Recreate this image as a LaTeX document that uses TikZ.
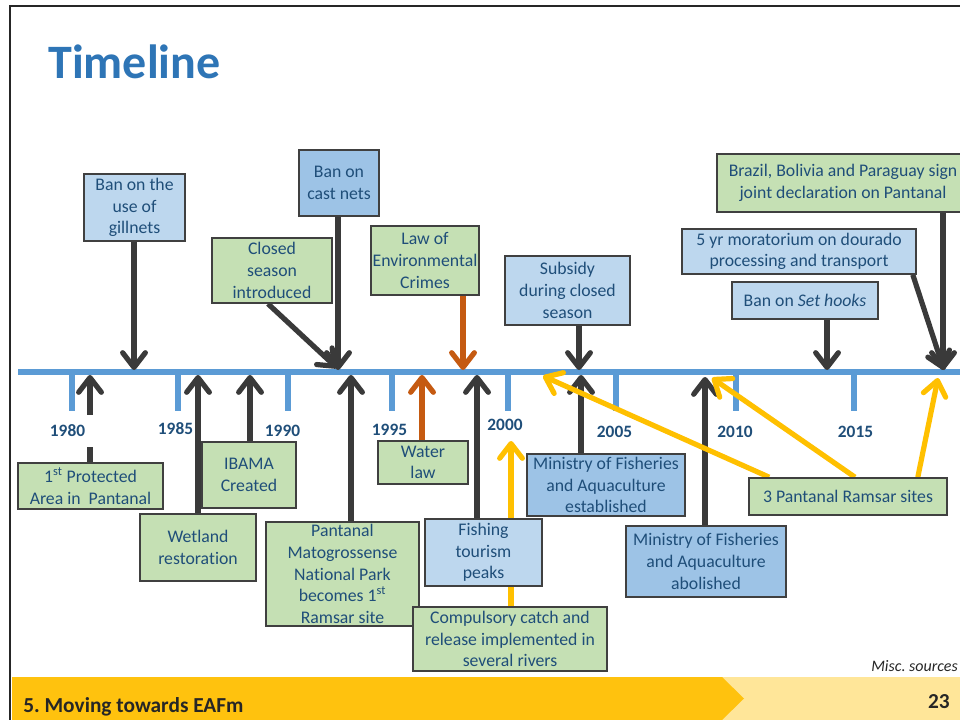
\documentclass[tikz,border=0pt]{standalone}
\usepackage{fontspec}
\setmainfont{Carlito}[Ligatures=NoCommon]
\usetikzlibrary{arrows.meta, backgrounds}
\newdimen\px \px=0.75pt
\definecolor{ink}{HTML}{1F4E79}
\definecolor{titleblue}{HTML}{2E75B6}
\definecolor{axisblue}{HTML}{5B9BD5}
\definecolor{paleblue}{HTML}{BDD7EE}
\definecolor{midblue}{HTML}{9DC3E6}
\definecolor{palegreen}{HTML}{C5E0B4}
\definecolor{edge}{HTML}{404040}
\definecolor{darkgrey}{HTML}{3A3A3A}
\definecolor{rust}{HTML}{C55A11}
\definecolor{amber}{HTML}{FFC000}
\definecolor{bargold}{HTML}{FFC20E}
\definecolor{barlight}{HTML}{FFE699}
\definecolor{framegrey}{HTML}{262626}
\tikzset{
  box/.style={
    rectangle, draw=edge, line width=1.2pt, inner sep=1pt,
    align=center, text=ink, font=\fontsize{13.3}{16.2}\selectfont
  },
  bluebox/.style={box, fill=paleblue},
  deepbox/.style={box, fill=midblue},
  greenbox/.style={box, fill=palegreen},
  sized/.style 2 args={minimum width=#1\px, minimum height=#2\px},
  year/.style={font=\fontsize{13}{15}\selectfont\bfseries, text=ink, inner sep=0pt},
  heading/.style={font=\fontsize{36}{40}\selectfont\bfseries, text=titleblue, inner sep=0pt},
  footer/.style={font=\fontsize{16}{18}\selectfont\bfseries, text=framegrey, inner sep=0pt},
  credit/.style={font=\fontsize{12}{14}\selectfont\itshape, text=framegrey, inner sep=0pt},
  timeaxis/.style={draw=axisblue, line width=4.2pt},
  yeartick/.style={draw=axisblue, line width=4.2pt},
  arrow/.style={draw=darkgrey, line width=3.9pt, -{Straight Barb[length=11pt,width=17pt,round]}},
  rustarrow/.style={arrow, draw=rust},
  amberarrow/.style={arrow, draw=amber},
}

\begin{document}
\frenchspacing
\begin{tikzpicture}[x=0.75pt, y=-0.75pt]
  \useasboundingbox (0,0) rectangle (960,720);

  \draw[framegrey, line width=1.5pt] (10,720) -- (10,6) -- (962,6);
  \fill[barlight] (12,677) rectangle (960,720);
  \fill[bargold] (12,677) -- (722,677) -- (744,698.5) -- (722,720) -- (12,720) -- cycle;

  \node[heading, anchor=base west] (title) at (48,79) {Timeline};
  \node[footer, anchor=base west] (section) at (23,712) {5. Moving towards EAFm};
  \node[footer, anchor=base east] (page) at (950,708) {23};
  \node[credit, anchor=base east] (sources) at (958,671) {Misc. sources};

  \node[bluebox, sized={101}{67}] (gillnets) at (134.5,207.5) {Ban on the\\use of\\gillnets};
  \node[deepbox, sized={80}{66}] (castnets) at (339,183) {Ban on\\cast nets};
  \node[greenbox, sized={120}{65}] (closedseason) at (272,270.5) {Closed\\season\\introduced};
  \node[greenbox, sized={100}{69}] (envcrimes) at (425,260.5) {Law of\\Environmental\\Crimes};
  \node[bluebox, sized={125}{69}] (subsidy) at (567.5,290.5) {Subsidy\\during closed\\season};
  \node[greenbox, sized={252}{58}] (declaration) at (843,183) {Brazil, Bolivia and Paraguay sign\\joint declaration on Pantanal};
  \node[bluebox, sized={234}{45}] (moratorium) at (799,251.5) {5 yr moratorium on dourado\\processing and transport};
  \node[bluebox, sized={146}{37}] (sethooks) at (805,300.5) {Ban on \textit{Set hooks}};

  \node[greenbox, sized={145}{46}] (protected) at (90.5,486) {1\textsuperscript{st} Protected\\Area in~ Pantanal};
  \node[greenbox, sized={116}{67}] (wetland) at (198,547.5) {Wetland\\restoration};
  \node[greenbox, sized={94}{66}] (ibama) at (249,475) {IBAMA\\Created};
  \node[greenbox, sized={153}{104}, inner ysep=0pt] (ramsarpark) at (342.5,574) {Pantanal\\Matogrossense\\National Park\\becomes 1\textsuperscript{st}\\Ramsar site};
  \node[greenbox, sized={90}{43}] (waterlaw) at (423,462.5) {Water\\law};
  \node[bluebox, sized={117}{67}] (tourism) at (483.5,552.5) {Fishing\\tourism\\peaks};
  \node[greenbox, sized={194}{64}] (catchrelease) at (510,639) {Compulsory catch and\\release implemented in\\several rivers};
  \node[deepbox, sized={158}{62}] (mfaopen) at (606,485) {Ministry of Fisheries\\and Aquaculture\\established};
  \node[deepbox, sized={160}{71}] (mfaclosed) at (706,561.5) {Ministry of Fisheries\\and Aquaculture\\abolished};
  \node[greenbox, sized={198}{37}] (ramsarsites) at (848,496.5) {3 Pantanal Ramsar sites};

  \node[year, fill=white, minimum width=52\px, minimum height=32\px] (y1980) at (67.5,431) {1980};
  \node[year] (y1985) at (175.5,429) {1985};
  \node[year] (y1990) at (282.5,430.5) {1990};
  \node[year] (y1995) at (389.5,429.5) {1995};
  \node[year] (y2000) at (505,424.5) {2000};
  \node[year] (y2005) at (614.5,432) {2005};
  \node[year] (y2010) at (735,432) {2010};
  \node[year] (y2015) at (855.5,432) {2015};

  \coordinate (at-gillnets) at (134,370);
  \coordinate (at-castnets) at (338,370);
  \coordinate (at-closedseason) at (337,368);
  \coordinate (at-envcrimes) at (463,370);
  \coordinate (at-subsidy) at (579,370);
  \coordinate (at-sethooks) at (827,370);
  \coordinate (at-moratorium) at (944,370);
  \coordinate (at-declaration) at (943,370);
  \coordinate (at-protected) at (90,375);
  \coordinate (at-wetland) at (198,375);
  \coordinate (at-ibama) at (250,375);
  \coordinate (at-ramsarpark) at (351,375);
  \coordinate (at-waterlaw) at (422,375);
  \coordinate (at-tourism) at (477,375);
  \coordinate (at-catchrelease) at (511,441);
  \coordinate (at-mfaopen) at (581,375);
  \coordinate (at-mfaclosed) at (705,377);
  \coordinate (at-ramsar1) at (543,376);
  \coordinate (at-ramsar2) at (712,378);
  \coordinate (at-ramsar3) at (938,378);

  \begin{scope}[on background layer]
    \fill[white] (0,0) rectangle (960,720);
    \draw[timeaxis] (18,372) -- (960,372);
    \foreach \x in {72,178,288,392,508,616,736,854}
      \draw[yeartick] (\x,372) -- (\x,411);

    \draw[arrow] (at-gillnets |- gillnets.south) -- (at-gillnets);
    \draw[arrow] (at-castnets |- castnets.south) -- (at-castnets);
    \draw[arrow] ([xshift=-4\px]closedseason.south) -- (at-closedseason);
    \draw[rustarrow] (at-envcrimes |- envcrimes.south) -- (at-envcrimes);
    \draw[arrow] (at-subsidy |- subsidy.south) -- (at-subsidy);
    \draw[arrow] (at-sethooks |- sethooks.south) -- (at-sethooks);
    \draw[arrow] ([xshift=-4\px]moratorium.south east) -- (at-moratorium);
    \draw[arrow] (at-declaration |- declaration.south) -- (at-declaration);

    \draw[arrow] (at-protected |- protected.north) -- (at-protected);
    \draw[arrow] (at-wetland |- wetland.north) -- (at-wetland);
    \draw[arrow] (at-ibama |- ibama.north) -- (at-ibama);
    \draw[arrow] (at-ramsarpark |- ramsarpark.north) -- (at-ramsarpark);
    \draw[rustarrow] (at-waterlaw |- waterlaw.north) -- (at-waterlaw);
    \draw[arrow] (at-tourism |- tourism.north) -- (at-tourism);
    \draw[arrow] (at-mfaopen |- mfaopen.north) -- (at-mfaopen);
    \draw[arrow] (at-mfaclosed |- mfaclosed.north) -- (at-mfaclosed);

    \draw[amberarrow] (at-catchrelease |- catchrelease.north) -- (at-catchrelease);
    \draw[amberarrow] ([xshift=21\px]ramsarsites.north west) -- (at-ramsar1);
    \draw[amberarrow] ([xshift=7\px]ramsarsites.north) -- (at-ramsar2);
    \draw[amberarrow] ([xshift=-30\px]ramsarsites.north east) -- (at-ramsar3);
  \end{scope}
\end{tikzpicture}
\end{document}
